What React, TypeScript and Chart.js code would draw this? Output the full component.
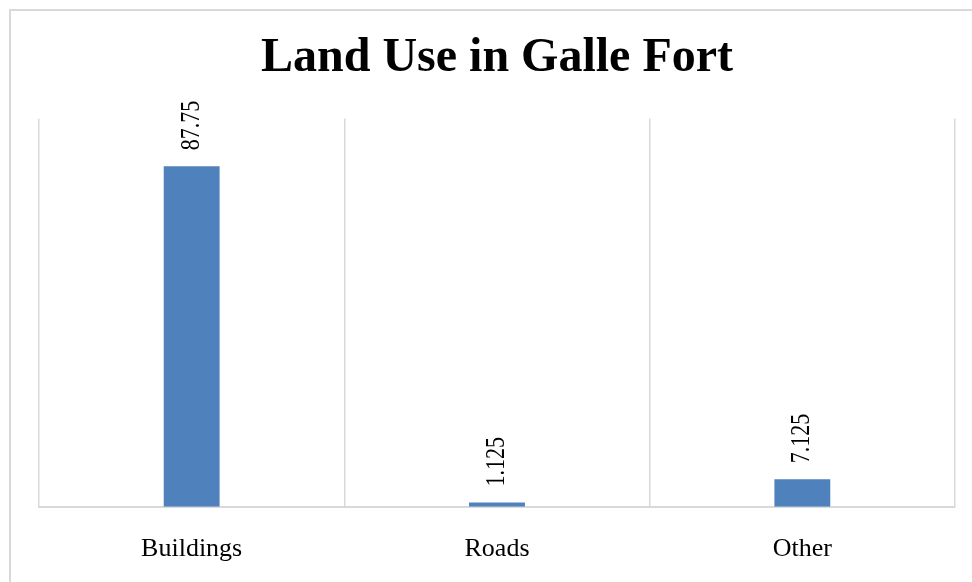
import React, { useEffect, useRef } from "react";
import { Chart, registerables } from "chart.js";

Chart.register(...registerables);

const categories = ["Buildings", "Roads", "Other"];
const values = [87.75, 1.125, 7.125];
const valueLabels = ["87.75", "1.125", "7.125"];
const titleText = "Land Use in Galle Fort";

const SERIF = '"Liberation Serif", "Times New Roman", serif';

const frameAndLabels = {
  id: "frameAndLabels",
  beforeDraw(chart: any) {
    const ctx = chart.ctx;
    ctx.save();
    ctx.strokeStyle = "#d9d9d9";
    ctx.lineWidth = 2;
    ctx.strokeRect(10, 10, 2000, 2000);
    ctx.restore();
  },
  afterDatasetsDraw(chart: any) {
    const ctx = chart.ctx;
    const meta = chart.getDatasetMeta(0);
    ctx.save();
    ctx.fillStyle = "#000000";
    ctx.font = "22px " + SERIF;
    meta.data.forEach((bar: any, i: number) => {
      ctx.save();
      ctx.translate(bar.x, bar.y - 16);
      ctx.rotate(-Math.PI / 2);
      ctx.scale(1, 1.2);
      ctx.textAlign = "left";
      ctx.textBaseline = "middle";
      ctx.fillText(valueLabels[i], 0, 0);
      ctx.restore();
    });
    ctx.restore();
  },
};

export default function App() {
  const ref = useRef<HTMLCanvasElement | null>(null);
  useEffect(() => {
    if (!ref.current) return;
    const chart = new Chart(ref.current, {
      type: "bar",
      data: {
        labels: categories,
        datasets: [
          {
            data: values,
            backgroundColor: "#4F81BD",
            borderWidth: 0,
            categoryPercentage: 1,
            barPercentage: 0.183,
          },
        ],
      },
      options: {
        animation: false,
        responsive: true,
        maintainAspectRatio: false,
        layout: { padding: { left: 39, right: 17, top: 0, bottom: -10 } },
        plugins: {
          legend: { display: false },
          tooltip: { enabled: false },
          title: {
            display: true,
            text: titleText,
            color: "#000000",
            font: { family: SERIF, size: 48, weight: "bold", lineHeight: 1.2 },
            padding: { top: 30, bottom: 31 },
          },
        },
        scales: {
          x: {
            offset: true,
            grid: {
              display: true,
              offset: true,
              color: "#d9d9d9",
              lineWidth: 1.5,
              drawTicks: false,
            },
            border: { display: true, color: "#d9d9d9", width: 2 },
            ticks: {
              color: "#000000",
              padding: 27,
              font: { family: SERIF, size: 26, lineHeight: 1.2 },
            },
          },
          y: {
            display: false,
            min: 0,
            max: 100,
          },
        },
      },
      plugins: [frameAndLabels],
    });
    return () => chart.destroy();
  }, []);
  return (
    <div style={{ position: "absolute", left: 0, top: 0, width: 972, height: 582, background: "#ffffff" }}>
      <canvas ref={ref} />
    </div>
  );
}
